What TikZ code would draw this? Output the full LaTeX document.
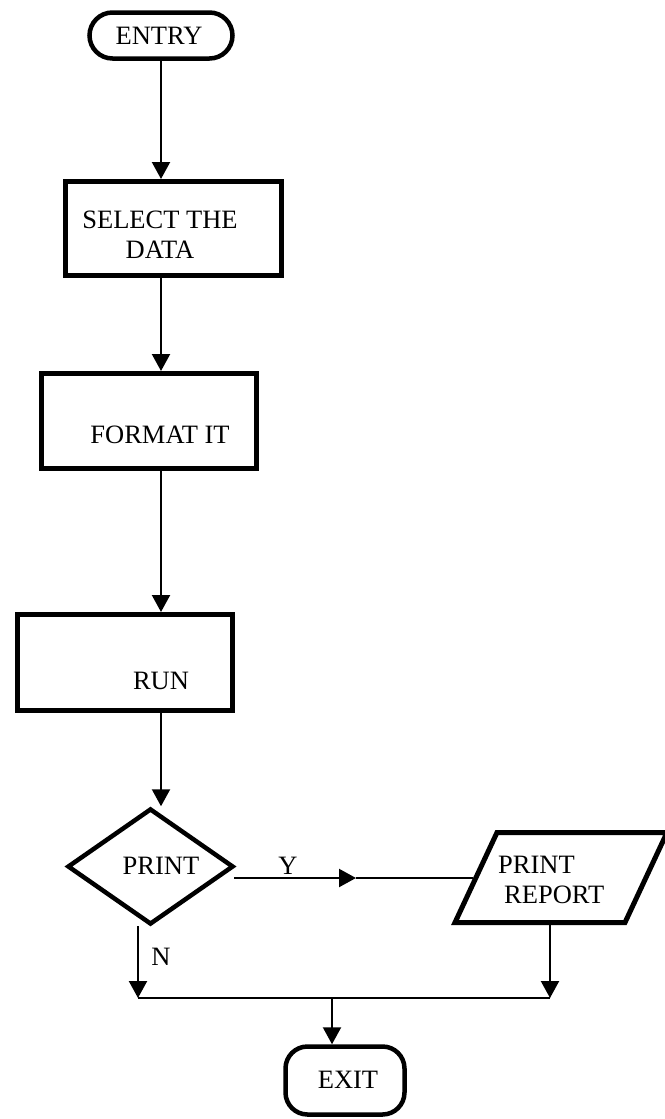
\documentclass[tikz,border=0pt]{standalone}
\usepackage{fontspec}
\setmainfont{Liberation Serif}
\usetikzlibrary{arrows.meta,shapes.geometric}
\begin{document}
\begin{tikzpicture}[x=1pt,y=-1pt,
  box/.style={draw, line width=5pt, rectangle, inner sep=0pt},
  term/.style={box, line width=4.5pt, rounded corners=#1},
  decision/.style={draw, diamond, line width=4.5pt, inner sep=0pt},
  flow/.style={line width=2.2pt},
  arr/.style={flow, -{Triangle[width=18pt,length=17pt]}},
  lbl/.style={font=\fontsize{26.5}{30}\selectfont, inner sep=0pt, anchor=base},
]
\useasboundingbox (0,0) rectangle (664,1119);

% terminals and process boxes
\node[term=23pt, minimum width=143pt, minimum height=46pt] (entry) at (161,35.5) {};
\node[box, minimum width=216pt, minimum height=94pt] (sel) at (173.5,228.5) {};
\node[box, minimum width=215pt, minimum height=95pt] (fmt) at (149,421) {};
\node[box, minimum width=215pt, minimum height=96pt] (run) at (125,662.5) {};
\node[decision, minimum width=166pt, minimum height=116pt] (dec) at (150.5,866.5) {};
\node[term=22pt, minimum width=119pt, minimum height=68pt] (exit) at (345,1080.5) {};

% output parallelogram
\coordinate (p-tl) at (497,832.5);
\coordinate (p-tr) at (667,832.5);
\coordinate (p-br) at (625,922.5);
\coordinate (p-bl) at (455,922.5);
\draw[line width=5pt, line join=miter] (p-tl) -- (p-tr) -- (p-br) -- (p-bl) -- cycle;

% texts
\node[lbl] (t-entry) at (159,44.8) {ENTRY};
\node[lbl] (t-sel1) at (160,228.8) {SELECT THE};
\node[lbl] (t-sel2) at (160,258.8) {DATA};
\node[lbl] (t-fmt) at (160,443.8) {FORMAT IT};
\node[lbl] (t-run) at (161,689.8) {RUN};
\node[lbl] (t-dec) at (161,874.8) {PRINT};
\node[lbl] (t-y) at (288,874.8) {Y};
\node[lbl] (t-n) at (161,965.8) {N};
\node[lbl, anchor=base west] (t-rep1) at (498,873.8) {PRINT};
\node[lbl, anchor=base west] (t-rep2) at (504,903.8) {REPORT};
\node[lbl] (t-exit) at (348,1088.8) {EXIT};

% main column
\draw[arr] (entry.south) -- (entry.south |- sel.north);
\draw[arr] (entry.south |- sel.south) -- (entry.south |- fmt.north);
\draw[arr] (entry.south |- fmt.south) -- (entry.south |- run.north);
\draw[arr] (entry.south |- run.south) -- (entry.south |- dec.north);

% yes branch
\coordinate (y-out) at (234,878);
\coordinate (y-mid) at (356,878);
\coordinate (p-in) at (473,878);
\draw[arr] (y-out) -- (y-mid);
\draw[flow] (y-mid) -- (p-in);

% no branch and merge
\coordinate (n-out) at (138,926);
\coordinate (n-join) at (138,998);
\coordinate (p-out) at (550,925);
\coordinate (p-join) at (550,998);
\coordinate (x-join) at (332,998);
\draw[arr] (n-out) -- (n-join);
\draw[arr] (p-out) -- (p-join);
\draw[flow] (n-join) -- (p-join);
\draw[arr] (x-join) -- (x-join |- exit.north);
\end{tikzpicture}
\end{document}
